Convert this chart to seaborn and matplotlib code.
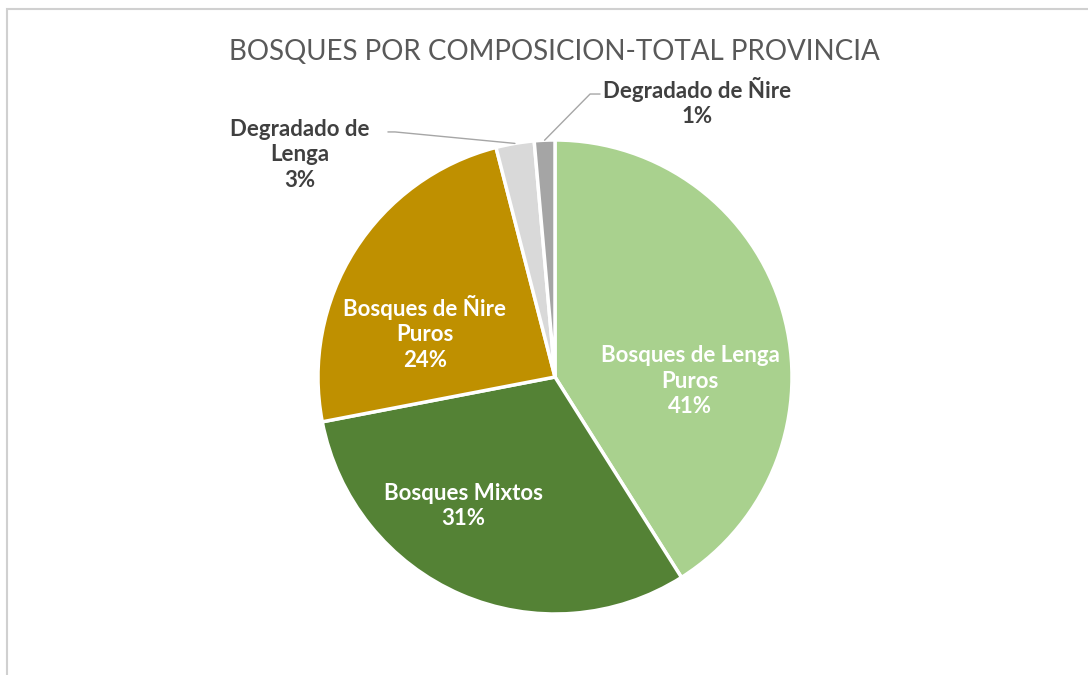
import numpy as np
import matplotlib
matplotlib.use("Agg")
import matplotlib.pyplot as plt
import seaborn as sns
from matplotlib.patches import Rectangle

# Data (share of total, %)
categories = ["Bosques de Lenga\nPuros", "Bosques Mixtos", "Bosques de Ñire\nPuros",
              "Degradado de\nLenga", "Degradado de Ñire"]
values = [41.0, 30.9, 24.0, 2.6, 1.4]
pct_labels = ["41%", "31%", "24%", "3%", "1%"]
colors = ["#A9D18E", "#548235", "#BF9000", "#D9D9D9", "#A5A5A5"]

sns.set_theme(style="white")
plt.rcParams['font.family'] = ['Lato', 'DejaVu Sans']

fig = plt.figure(figsize=(10.88, 6.75), dpi=100)
fig.patch.set_facecolor("white")

# light frame of the chart area (cut at right / bottom)
fig.patches.append(Rectangle((7 / 1088, -0.01), 1.1, 1 - 9 / 675 + 0.01,
                             transform=fig.transFigure, fill=False,
                             edgecolor="#D0D0D0", linewidth=1.5))

# pie placement: center (555, 377) px, radius 237 px
cx, cy, r = 555, 377, 237
ax = fig.add_axes([(cx - r) / 1088, (675 - cy - r) / 675, 2 * r / 1088, 2 * r / 675])
wedges, _ = ax.pie(values, colors=colors, startangle=90, counterclock=False,
                   radius=1.0, wedgeprops=dict(edgecolor="white", linewidth=2.5))
ax.set_xlim(-1, 1)
ax.set_ylim(-1, 1)
ax.set_aspect("equal")
ax.axis("off")

# label positions (layout, data coords of the pie axes)
label_pos = [(0.57, -0.017), (-0.388, -0.544), (-0.549, 0.186),
             (-1.076, 0.937), (0.599, 1.160)]
label_col = ["white", "white", "white", "#404040", "#404040"]
for name, pct, (x, y), c in zip(categories, pct_labels, label_pos, label_col):
    ax.text(x, y, name + "\n" + pct, ha="center", va="center", color=c,
            fontsize=16, fontweight="bold", linespacing=1.25,
            clip_on=False)

# leader lines for the two small slices
starts = {3: [(-0.705, 1.034), (-0.675, 1.034)], 4: [(0.19, 1.194), (0.148, 1.194)]}
for i, pts in starts.items():
    w = wedges[i]
    mid = np.deg2rad((w.theta1 + w.theta2) / 2)
    end = (np.cos(mid) * 1.0, np.sin(mid) * 1.0)
    xs = [p[0] for p in pts] + [end[0]]
    ys = [p[1] for p in pts] + [end[1]]
    ax.plot(xs, ys, color="#A6A6A6", linewidth=1, clip_on=False)

fig.text(554 / 1088, 1 - 52 / 675, "BOSQUES POR COMPOSICION-TOTAL PROVINCIA",
         ha="center", va="center", fontsize=20, color="#595959")

fig.savefig("out.png", dpi=100, facecolor="white")
